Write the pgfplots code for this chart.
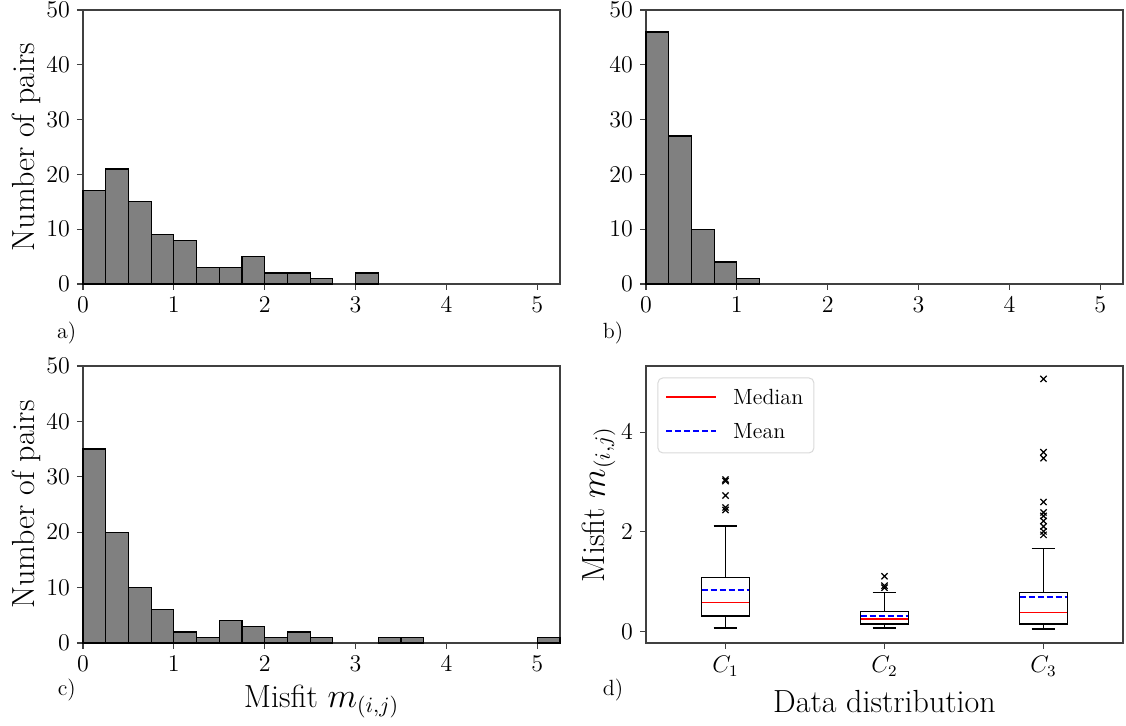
\documentclass[border=0pt]{standalone}
\usepackage{pgfplots}
\pgfplotsset{compat=1.18}
\usepgfplotslibrary{statistics}
\definecolor{mred}{rgb}{1,0,0}
\definecolor{mblue}{rgb}{0,0,1}
\begin{document}
\begin{tikzpicture}
\useasboundingbox (0,0) rectangle (563pt,-363pt);
\tikzset{plab/.style={font=\fontsize{11}{13}\selectfont}}
\pgfplotsset{
  base/.style={
    scale only axis, width=238.5pt, height=137pt,
    anchor=north west,
    tick align=outside, tick pos=left,
    major tick length=3pt,
    axis line style={black!75, line width=0.6pt},
    every tick/.style={black!75, line width=0.6pt},
    tick label style={font=\fontsize{12}{14}\selectfont},
    label style={font=\fontsize{16}{19}\selectfont},
    clip=false,
    ylabel shift=-4pt,
  },
  hist/.style={base,
    xmin=0, xmax=5.25, ymin=0, ymax=50,
    xtick={0,1,2,3,4,5}, ytick={0,10,20,30,40,50},
  },
  histbar/.style={ybar, bar width=0.25, bar shift=0pt, fill=gray, draw=black, line width=0.6pt},
}
% a)
\begin{axis}[hist, at={(41.5pt,-5pt)}, ylabel={Number of pairs}]
\addplot[histbar] coordinates {(0.125,17) (0.375,21) (0.625,15) (0.875,9) (1.125,8) (1.375,3) (1.625,3) (1.875,5) (2.125,2) (2.375,2) (2.625,1) (3.125,2)};
\node[plab] at (rel axis cs:-0.034,-0.18) {a)};
\end{axis}
% b)
\begin{axis}[hist, at={(323pt,-5pt)}]
\addplot[histbar] coordinates {(0.125,46) (0.375,27) (0.625,10) (0.875,4) (1.125,1)};
\node[plab] at (rel axis cs:-0.069,-0.18) {b)};
\end{axis}
% c)
\begin{axis}[hist, height=138.5pt, at={(41.5pt,-183pt)}, ylabel={Number of pairs}, xlabel={Misfit $m_{(i,j)}$}]
\addplot[histbar] coordinates {(0.125,35) (0.375,20) (0.625,10) (0.875,6) (1.125,2) (1.375,1) (1.625,4) (1.875,3) (2.125,1) (2.375,2) (2.625,1) (3.375,1) (3.625,1) (5.125,1)};
\node[plab] at (rel axis cs:-0.034,-0.170) {c)};
\end{axis}
% d)
\begin{axis}[base, height=138.5pt, at={(323pt,-183pt)},
  xmin=0.5, xmax=3.5, ymin=-0.23, ymax=5.33,
  xtick={1,2,3}, xticklabels={$C_1$,$C_2$,$C_3$}, ytick={0,2,4},
  ylabel={Misfit $m_{(i,j)}$}, xlabel={Data distribution},
  boxplot/draw direction=y,
  boxplot/every median/.style={color=mred, solid, line width=0.6pt},
]
\addplot[color=black, line width=0.6pt, mark=x, mark size=2.2pt, mark options={solid, color=black}, forget plot,
  boxplot prepared={draw position=1, lower whisker=0.07, lower quartile=0.31, median=0.59,
    upper quartile=1.09, upper whisker=2.12, box extend=0.3, whisker extend=0.15}]
  table[row sep=\\, y index=0] {2.44\\2.49\\2.73\\3.02\\3.05\\};
\addplot[color=black, line width=0.6pt, mark=x, mark size=2.2pt, mark options={solid, color=black}, forget plot,
  boxplot prepared={draw position=2, lower whisker=0.07, lower quartile=0.15, median=0.25,
    upper quartile=0.40, upper whisker=0.78, box extend=0.3, whisker extend=0.15}]
  table[row sep=\\, y index=0] {0.88\\0.92\\1.11\\};
\addplot[color=black, line width=0.6pt, mark=x, mark size=2.2pt, mark options={solid, color=black}, forget plot,
  boxplot prepared={draw position=3, lower whisker=0.05, lower quartile=0.15, median=0.375,
    upper quartile=0.78, upper whisker=1.66, box extend=0.3, whisker extend=0.15}]
  table[row sep=\\, y index=0] {1.94\\2.01\\2.11\\2.22\\2.32\\2.39\\2.60\\3.48\\3.60\\5.07\\};
% legend
\draw[black!15, line width=0.5pt, rounded corners=2.5pt, fill=white] (rel axis cs:0.025,0.957) rectangle (rel axis cs:0.352,0.686);
\addplot[color=mred, line width=0.8pt, forget plot] coordinates {(0.626,4.707) (0.941,4.707)};
\addplot[color=mblue, dash pattern=on 3pt off 1.5pt, line width=0.8pt, forget plot] coordinates {(0.626,4.023) (0.941,4.023)};
\node[anchor=west, inner sep=0pt, font=\fontsize{11}{13}\selectfont] at (rel axis cs:0.182,0.888) {Median};
\node[anchor=west, inner sep=0pt, font=\fontsize{11}{13}\selectfont] at (rel axis cs:0.182,0.765) {Mean};
\node[plab] at (rel axis cs:-0.069,-0.170) {d)};
% means
\addplot[color=mblue, dash pattern=on 3pt off 1.5pt, line width=0.8pt, forget plot] coordinates {(0.85,0.83) (1.15,0.83)};
\addplot[color=mblue, dash pattern=on 3pt off 1.5pt, line width=0.8pt, forget plot] coordinates {(1.85,0.31) (2.15,0.31)};
\addplot[color=mblue, dash pattern=on 3pt off 1.5pt, line width=0.9pt, forget plot] coordinates {(2.85,0.69) (3.15,0.69)};
\end{axis}
\end{tikzpicture}
\end{document}
